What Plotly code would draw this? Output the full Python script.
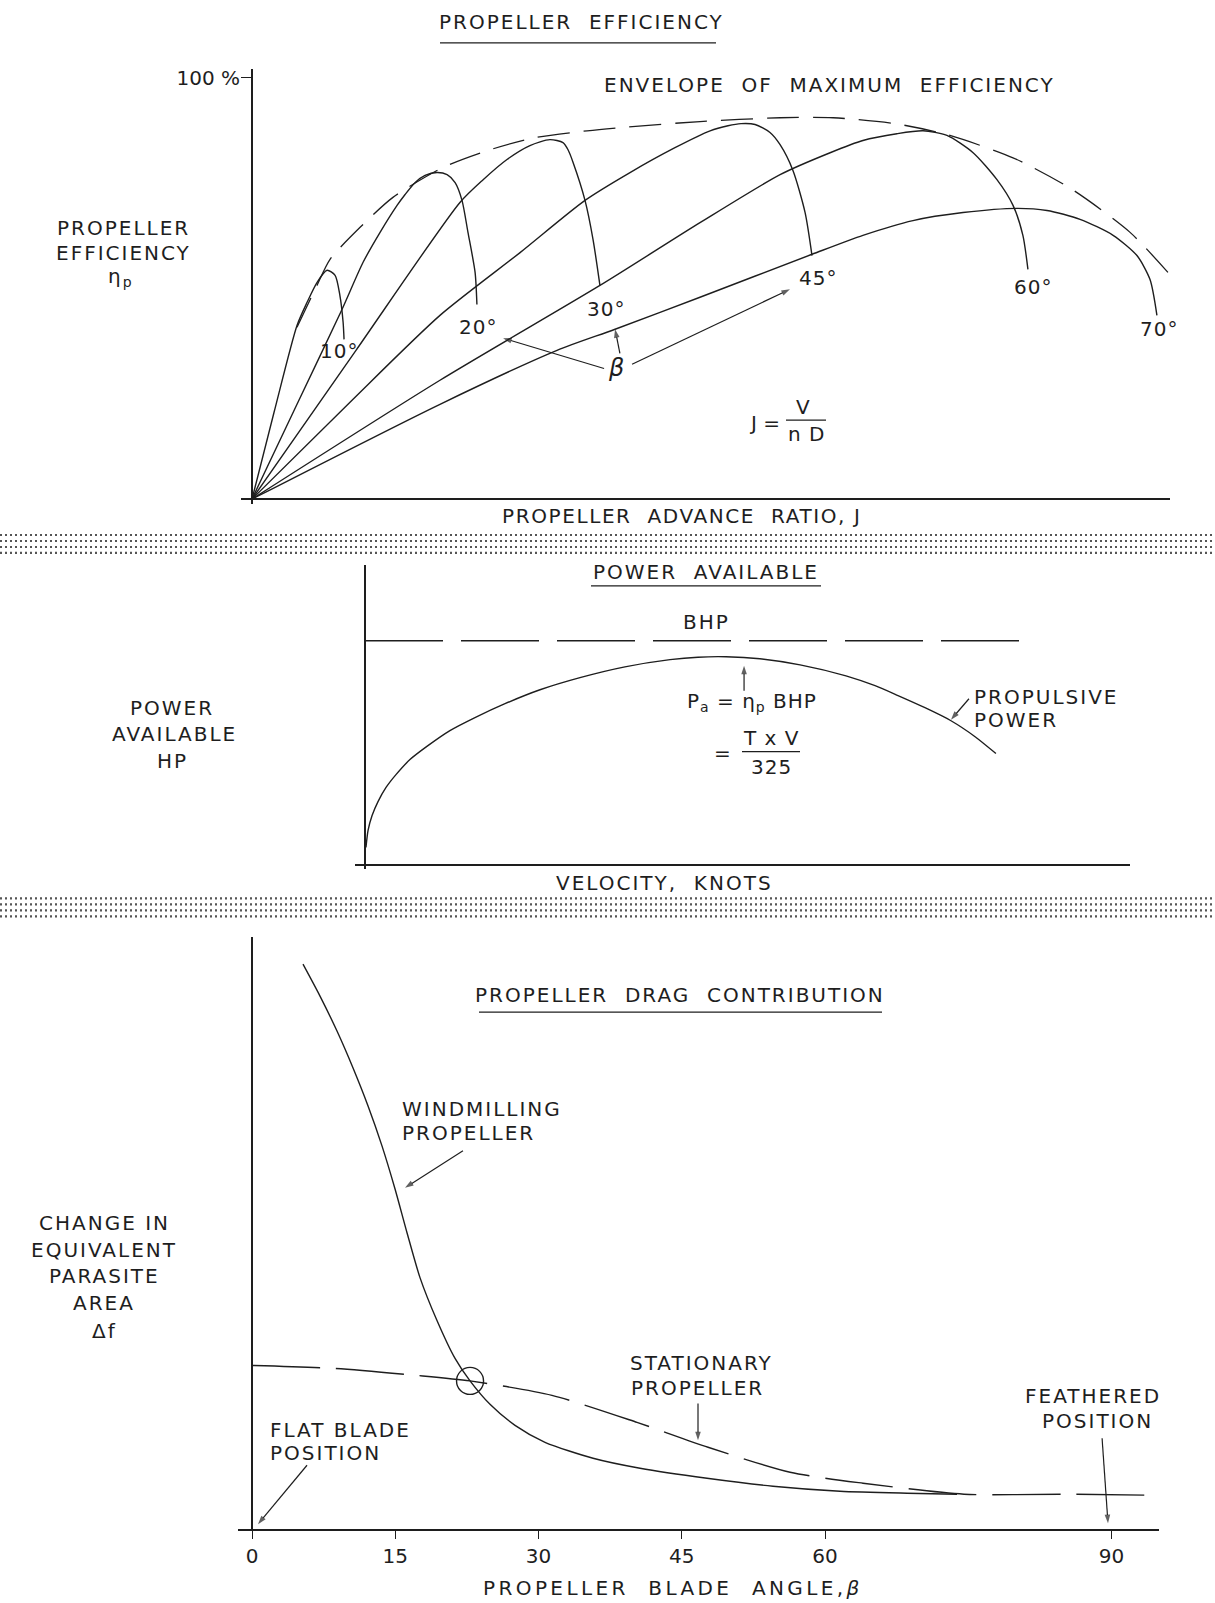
import plotly.graph_objects as go

W, H = 1215, 1603
INK = "#1e1e1e"
FONT = "DejaVu Sans"

# ---------------- Panel 1: propeller efficiency vs advance ratio J ----------------
beta_labels = ["10°", "20°", "30°", "45°", "60°", "70°"]
j_10 = [0.0, 0.096, 0.196, 0.240, 0.283, 0.327, 0.362, 0.383, 0.397, 0.401]
eta_10 = [0.0, 20.6, 41.2, 46.7, 51.4, 54.3, 53.1, 48.3, 41.9, 37.9]
j_20 = [0.0, 0.196, 0.392, 0.484, 0.558, 0.632, 0.667, 0.710, 0.754, 0.806, 0.850, 0.885,
        0.915, 0.941, 0.972, 0.980]
eta_20 = [0.0, 22.5, 45.0, 56.2, 63.3, 69.7, 72.3, 75.1, 76.8, 77.5, 77.0, 75.1,
          70.9, 63.3, 53.8, 46.2]
j_30 = [0.0, 0.453, 0.906, 1.007, 1.111, 1.211, 1.298, 1.355, 1.377, 1.399, 1.451, 1.486, 1.516]
eta_30 = [0.0, 35.3, 70.4, 75.8, 80.6, 83.9, 85.3, 84.6, 82.9, 79.9, 70.9, 61.6, 50.7]
j_45 = [0.0, 0.427, 0.819, 1.168, 1.451, 1.647, 1.843, 1.996, 2.074, 2.131, 2.192, 2.257,
        2.301, 2.357, 2.410, 2.440]
eta_45 = [0.0, 23.0, 43.6, 58.5, 70.9, 77.5, 83.4, 87.4, 88.6, 89.1, 88.9, 87.0,
          84.1, 78.0, 68.0, 57.8]
j_60 = [0.0, 0.819, 1.516, 1.952, 2.301, 2.519, 2.662, 2.810, 2.924, 3.028, 3.142, 3.246, 3.316, 3.359, 3.381]
eta_60 = [0.0, 28.2, 50.7, 65.6, 77.0, 82.2, 85.1, 86.7, 87.4, 86.3, 82.2, 75.8, 69.7, 62.6, 54.5]
j_70 = [0.0, 0.819, 1.329, 1.582, 1.952, 2.440, 2.662, 2.880, 3.098, 3.333, 3.464, 3.608, 3.752, 3.856, 3.913, 3.943]
eta_70 = [0.0, 22.5, 35.3, 40.3, 47.9, 58.1, 62.6, 66.1, 68.0, 69.0, 68.5, 66.4, 62.6, 57.8, 52.1, 43.6]
j_env = [0.196, 0.283, 0.340, 0.471, 0.614, 0.832, 1.037, 1.233, 1.460, 1.612, 1.952, 2.301, 2.532,
         2.802, 3.028, 3.316, 3.573, 3.826, 3.991]
eta_env = [40.8, 50.7, 56.9, 64.5, 71.6, 78.7, 82.9, 85.8, 87.4, 88.2, 89.6, 90.5, 90.5,
           89.1, 86.5, 81.0, 73.5, 63.3, 53.8]
eff_tick_vals = [100]
eff_tick_text = ["100 %"]

# ---------------- Panel 2: power available vs velocity ----------------
bhp_velocity = [0, 343]
bhp_power = [1000, 1000]
prop_velocity = [0.5, 1.6, 3.7, 6.8, 11.0, 16.2, 23.5, 32.9, 44.4, 57.5, 73.2, 91.5, 112.4,
                 135.9, 159.5, 174.1, 188.8, 206.5, 227.5, 251.5, 266.7, 278.7, 292.8, 306.4, 319.0, 329.9]
prop_power = [80, 156, 222, 284, 347, 404, 471, 533, 600, 658, 720, 782, 836,
              884, 916, 927, 929, 920, 893, 844, 800, 756, 702, 644, 573, 498]

# ---------------- Panel 3: propeller drag contribution vs blade angle ----------------
beta_ticks = [0, 15, 30, 45, 60, 90]
beta_tick_text = ["0", "15", "30", "45", "60", "90"]
beta_wind = [5.34, 7.12, 8.90, 10.58, 12.15, 13.61, 14.97, 16.23, 17.59, 19.37, 21.26, 22.83,
             24.92, 27.54, 30.68, 35.71, 40.63, 47.64, 54.55, 61.57, 68.59, 73.82]
df_wind = [113.2, 106.8, 99.8, 92.4, 84.8, 76.8, 68.2, 59.4, 50.4, 41.8, 34.2, 29.7,
           25.0, 20.8, 17.4, 14.2, 12.2, 10.2, 8.6, 7.6, 7.2, 7.0]
beta_stat = [0.0, 8.69, 17.28, 22.83, 31.41, 40.31, 47.75, 56.34, 63.98, 74.55, 84.82, 94.03]
df_stat = [32.8, 32.2, 30.8, 29.7, 26.8, 21.4, 16.4, 11.4, 9.2, 7.0, 7.0, 6.8]
cross_beta = [22.83]
cross_df = [29.7]

# ---------------- leader arrows (tail, tip) in each panel's axis units ----------------
arrows_top = [((1.534, 31.0), (1.094, 38.2)),
              ((1.603, 34.6), (1.582, 40.3)),
              ((1.656, 32.0), (2.344, 49.8))]
arrows_mid = [((198.2, 778), (198.2, 889)),
              ((315.8, 742), (306.4, 649))]
arrows_bot = [((22.09, 75.8), (16.02, 68.4)),
              ((46.70, 25.2), (46.70, 17.8)),
              ((5.76, 12.8), (0.63, 1.0)),
              ((89.01, 18.2), (89.63, 1.2))]


def fx(p):
    return p / W


def fy(p):
    return 1 - p / H


fig = go.Figure()
solid = dict(color=INK, width=1.4, shape="spline", smoothing=0.7)

for j, e in [(j_10, eta_10), (j_20, eta_20), (j_30, eta_30), (j_45, eta_45), (j_60, eta_60), (j_70, eta_70)]:
    fig.add_trace(go.Scatter(x=j, y=e, mode="lines", line=solid, xaxis="x", yaxis="y",
                             hoverinfo="skip", showlegend=False))
fig.add_trace(go.Scatter(x=j_env, y=eta_env, mode="lines",
                         line=dict(color=INK, width=1.3, shape="spline", smoothing=0.7, dash="32px,14px"),
                         xaxis="x", yaxis="y", hoverinfo="skip", showlegend=False))

fig.add_trace(go.Scatter(x=bhp_velocity, y=bhp_power, mode="lines",
                         line=dict(color=INK, width=1.4, dash="78px,18px"),
                         xaxis="x2", yaxis="y2", hoverinfo="skip", showlegend=False))
fig.add_trace(go.Scatter(x=prop_velocity, y=prop_power, mode="lines", line=solid,
                         xaxis="x2", yaxis="y2", hoverinfo="skip", showlegend=False))

fig.add_trace(go.Scatter(x=beta_wind, y=df_wind, mode="lines", line=solid,
                         xaxis="x3", yaxis="y3", hoverinfo="skip", showlegend=False))
fig.add_trace(go.Scatter(x=beta_stat, y=df_stat, mode="lines",
                         line=dict(color=INK, width=1.4, shape="spline", smoothing=0.7, dash="68px,16px"),
                         xaxis="x3", yaxis="y3", hoverinfo="skip", showlegend=False))
fig.add_trace(go.Scatter(x=cross_beta, y=cross_df, mode="markers",
                         marker=dict(symbol="circle-open", size=27, color=INK, line=dict(width=1.4, color=INK)),
                         xaxis="x3", yaxis="y3", hoverinfo="skip", showlegend=False))

for arrows, xa, ya in [(arrows_top, "x", "y"), (arrows_mid, "x2", "y2"), (arrows_bot, "x3", "y3")]:
    for tail, tip in arrows:
        fig.add_trace(go.Scatter(
            x=[tail[0], tip[0]], y=[tail[1], tip[1]], mode="lines+markers",
            line=dict(color=INK, width=1.2),
            marker=dict(symbol=["circle", "arrow"], size=[0, 9], angleref="previous", color=INK,
                        line=dict(width=0)),
            xaxis=xa, yaxis=ya, hoverinfo="skip", showlegend=False, cliponaxis=False))

ann = []


def txt(t, x, y, size=20, xa="center", ls=2.0):
    ann.append(dict(text=f'<span style="letter-spacing:{ls}px">{t}</span>', x=fx(x), y=fy(y),
                    xref="paper", yref="paper", xanchor=xa, yanchor="middle", showarrow=False,
                    font=dict(family=FONT, size=size, color=INK)))


NB = "\u00a0"
# panel 1 text
txt(f"PROPELLER{NB}{NB}EFFICIENCY", 581, 19)
txt(f"ENVELOPE{NB}{NB}OF{NB}{NB}MAXIMUM{NB}{NB}EFFICIENCY", 829, 82)
txt("PROPELLER", 123, 225)
txt("EFFICIENCY", 123, 250)
txt("η<sub>p</sub>", 121, 275)
for lab, (x, y) in zip(beta_labels, [(339, 349), (478, 325), (606, 307), (818, 276), (1033, 285), (1159, 327)]):
    txt(lab, x, y, ls=1)
txt("<i>β</i>", 616, 366, size=24, ls=0)
txt("J =", 764, 421, ls=0)
txt("V", 803, 405, ls=0)
txt("n D", 806, 432, ls=1)
txt(f"PROPELLER{NB}{NB}ADVANCE{NB}{NB}RATIO,{NB}J", 682, 514, ls=1.6)

# panel 2 text
txt(f"POWER{NB}{NB}AVAILABLE", 706, 570)
txt("BHP", 706, 620)
txt("P<sub>a</sub> = η<sub>p</sub> BHP", 752, 700, ls=1)
txt("=", 722, 751, ls=0)
txt("T x V", 771, 736, ls=1)
txt("325", 771, 765, ls=1)
txt("PROPULSIVE", 972, 695, xa="left")
txt("POWER", 972, 718, xa="left")
txt("POWER", 172, 706)
txt("AVAILABLE", 174, 732)
txt("HP", 172, 759)
txt(f"VELOCITY,{NB}{NB}KNOTS", 665, 882)

# panel 3 text
txt(f"PROPELLER{NB}{NB}DRAG{NB}{NB}CONTRIBUTION", 680, 994)
txt("WINDMILLING", 400, 1108, xa="left")
txt("PROPELLER", 400, 1132, xa="left")
for t, y in zip(["CHANGE IN", "EQUIVALENT", "PARASITE", "AREA", "Δf"], [1222, 1249, 1275, 1302, 1330]):
    txt(t, 104, y)
txt("STATIONARY", 702, 1363)
txt("PROPELLER", 697, 1388)
txt("FLAT BLADE", 268, 1430, xa="left")
txt("POSITION", 268, 1453, xa="left")
txt("FEATHERED", 1093, 1396)
txt("POSITION", 1097, 1421)
txt(f"PROPELLER{NB}{NB}BLADE{NB}{NB}ANGLE,<i>β</i>", 673, 1588, ls=3.4)

shapes = []


def hline(x0, x1, y, width=1.3, dash=None, color=INK):
    shapes.append(dict(type="line", xref="paper", yref="paper", x0=fx(x0), x1=fx(x1), y0=fy(y), y1=fy(y),
                       line=dict(color=color, width=width, dash=dash)))


# underlines and fraction bars
hline(440, 716, 40)
hline(591, 821, 584)
hline(479, 882, 1011)
hline(786, 826, 418)
hline(742, 800, 750)
# dotted separator bands
for y in [533, 539, 545, 551, 897, 903, 909, 915]:
    hline(0, W, y, width=2.2, dash="2px,3px", color="#555")

common = dict(showgrid=False, zeroline=True, zerolinecolor=INK, zerolinewidth=1.6,
              showline=False, showticklabels=False, ticks="", fixedrange=True)

fig.update_layout(
    width=W, height=H, autosize=False,
    margin=dict(l=0, r=0, t=0, b=0, pad=0),
    paper_bgcolor="white", plot_bgcolor="white",
    showlegend=False,
    font=dict(family=FONT, color=INK, size=20),
    xaxis=dict(domain=[fx(241), fx(1170)], range=[-0.048, 4.0], anchor="y", **common),
    yaxis=dict(domain=[fy(502), fy(66)], range=[-1.18, 102.1], anchor="x",
               **{**common, "showticklabels": True, "ticks": "inside"},
               tickvals=eff_tick_vals, ticktext=eff_tick_text, ticklen=11, tickwidth=1.4,
               tickcolor=INK, tickfont=dict(family=FONT, size=20, color=INK)),
    xaxis2=dict(domain=[fx(355), fx(1130)], range=[-5.23, 400], anchor="y2", **common),
    yaxis2=dict(domain=[fy(868), fy(563)], range=[-17.8, 1337.8], anchor="x2", **common),
    xaxis3=dict(domain=[fx(238), fx(1159)], range=[-1.466, 94.97], anchor="y3",
                **{**common, "showline": True, "showticklabels": True, "ticks": "outside"},
                linecolor=INK, linewidth=1.6, tickvals=beta_ticks, ticktext=beta_tick_text,
                ticklen=8, tickwidth=1.4, tickcolor=INK,
                tickfont=dict(family=FONT, size=20, color=INK)),
    yaxis3=dict(domain=[fy(1529), fy(936)], range=[0, 118.6], anchor="x3",
                **{**common, "zeroline": False}),
    annotations=ann,
    shapes=shapes,
)

fig.write_html("out.html", config={"displayModeBar": False},
               post_script="document.body.style.margin='0';")
